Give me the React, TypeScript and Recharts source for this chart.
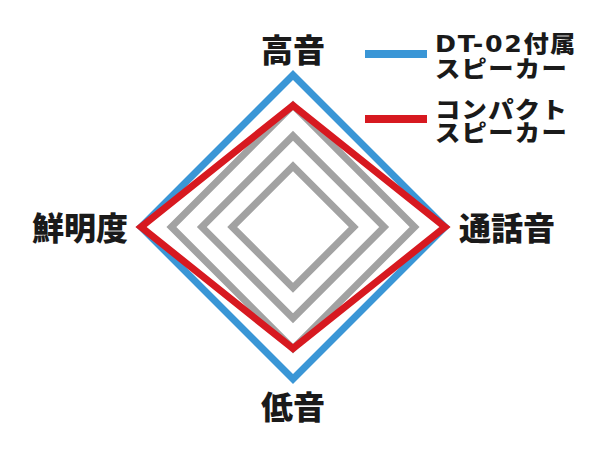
import React from "react";
import { RadarChart, Radar, PolarGrid, PolarAngleAxis, PolarRadiusAxis, Legend } from "recharts";

const categories = ["高音", "通話音", "低音", "鮮明度"];
const dt02Values = [5, 5, 5, 5];
const compactValues = [4, 5, 4, 5];
const gridTicks = [2, 3, 4];
const seriesNames = ["DT-02付属スピーカー", "コンパクトスピーカー"];
const seriesLines = [["DT-02付属", "スピーカー"], ["コンパクト", "スピーカー"]];
const seriesColors = ["#3a96d6", "#d71920"];

const data = categories.map((c, i) => ({ subject: c, dt02: dt02Values[i], compact: compactValues[i] }));

const JP = "'Noto Sans CJK JP', sans-serif";

const AngleTick = (props: any) => {
  const { x, y, payload, textAnchor } = props;
  const cy = props.cy ?? 219;
  let dx = 0;
  let dy = 0;
  if (textAnchor === "start") { dx = 6; dy = -1.5; }
  else if (textAnchor === "end") { dx = -5; dy = -1.5; }
  else { dy = y < cy ? -19 : 18; }
  return (
    <text x={x + dx} y={y + dy} textAnchor={textAnchor} dominantBaseline="central"
      fontFamily={JP} fontWeight={900} fontSize={32} fill="#1a1a1a">
      {payload.value}
    </text>
  );
};

const renderLegend = () => (
  <div style={{ display: "flex", flexDirection: "column", gap: 18 }}>
    {seriesLines.map((lines, i) => (
      <div key={i} style={{ display: "flex", alignItems: "center" }}>
        <div style={{ width: 62, height: 8, background: seriesColors[i], marginRight: 8, marginTop: -2 }} />
        <div style={{ fontFamily: JP, fontWeight: 900, fontSize: 23, lineHeight: "23px", letterSpacing: 1.2, color: "#1a1a1a", transform: "scaleX(1.1)", transformOrigin: "left center" }}>
          {lines.map((l, j) => {
            const m = l.match(/^([A-Za-z0-9\-]+)(.*)$/);
            return (
              <div key={j} style={{ whiteSpace: "nowrap" }}>
                {m ? (<><span style={{ fontFamily: "'DejaVu Sans', sans-serif", fontWeight: 700, letterSpacing: 1.5 }}>{m[1]}</span>{m[2]}</>) : l}
              </div>
            );
          })}
        </div>
      </div>
    ))}
  </div>
);

export default function App() {
  return (
    <div style={{ width: 584, height: 434 }}>
      <RadarChart width={584} height={434} data={data} cx={285} cy={219} outerRadius={152}
        margin={{ top: 0, right: 0, bottom: 0, left: 0 }}>
        <PolarGrid gridType="polygon" radialLines={false} stroke="#a2a2a2" strokeWidth={7} />
        <PolarAngleAxis dataKey="subject" tick={<AngleTick />} tickLine={false} axisLine={false} />
        <PolarRadiusAxis domain={[0, 5]} ticks={gridTicks as any} tick={false} axisLine={false} />
        <Radar name={seriesNames[0]} dataKey="dt02" stroke={seriesColors[0]} strokeWidth={7}
          fill="none" fillOpacity={0} isAnimationActive={false} dot={false} />
        <Radar name={seriesNames[1]} dataKey="compact" stroke={seriesColors[1]} strokeWidth={7}
          fill="none" fillOpacity={0} isAnimationActive={false} dot={false} />
        <Legend content={renderLegend} layout="vertical" align="right" verticalAlign="top"
          wrapperStyle={{ position: "absolute", left: 357, top: 23, width: 227 }} />
      </RadarChart>
    </div>
  );
}
